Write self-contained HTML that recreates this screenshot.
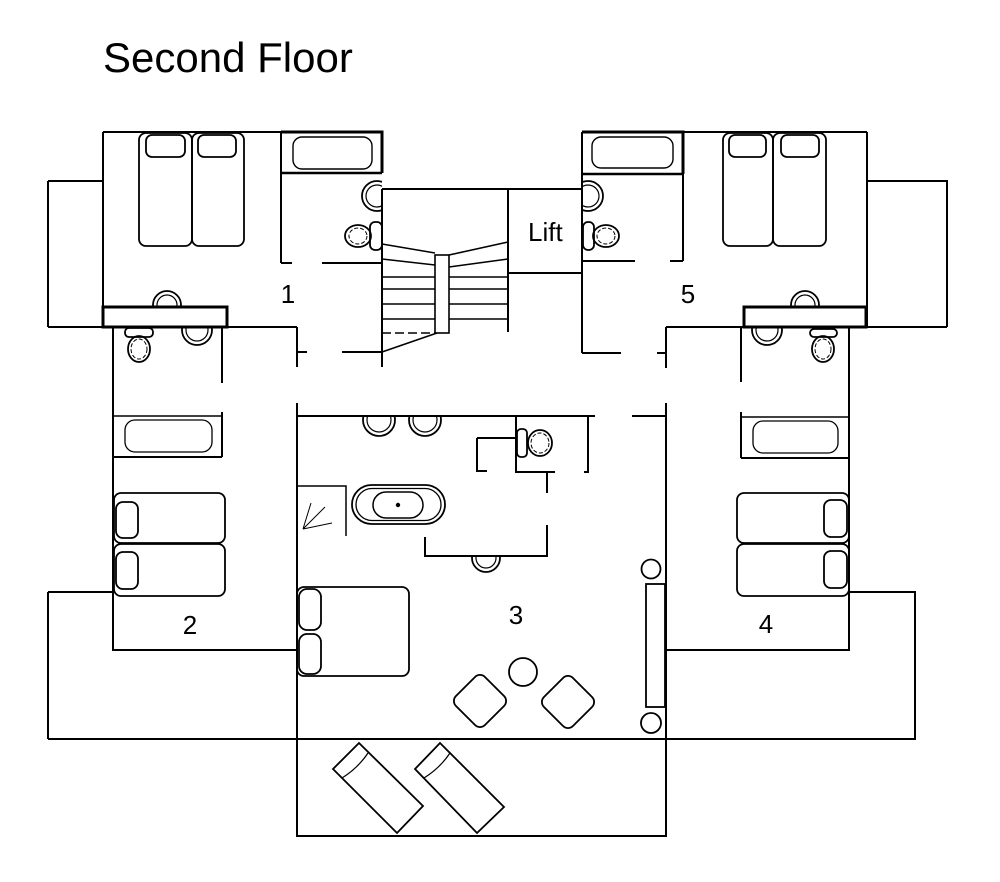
<!DOCTYPE html>
<html><head><meta charset="utf-8"><style>
html,body{margin:0;padding:0;background:#fff;}
svg{display:block}
text{font-family:"Liberation Sans",Arial,sans-serif;fill:#000}
</style></head><body>
<svg width="1000" height="882" viewBox="0 0 1000 882" xmlns="http://www.w3.org/2000/svg">
<defs>
<clipPath id="c1"><rect x="0" y="0" width="382" height="882"/></clipPath>
<clipPath id="c2"><rect x="0" y="0" width="1000" height="307"/></clipPath>
<clipPath id="c3"><rect x="113" y="328" width="109" height="100"/></clipPath>
<clipPath id="c4"><rect x="583" y="0" width="417" height="882"/></clipPath>
<clipPath id="c5"><rect x="741" y="328" width="108" height="100"/></clipPath>
<clipPath id="c6"><rect x="297" y="417" width="300" height="100"/></clipPath>
<clipPath id="c7"><rect x="400" y="557" width="200" height="100"/></clipPath>
</defs>
<rect width="1000" height="882" fill="#fff"/>
<text x="103" y="72" font-size="42">Second Floor</text>

<g fill="none" stroke="#000" stroke-width="2">
<!-- left balcony & room 1 -->
<path d="M48,181 H103 M48,181 V327 M48,327 H297 M103,132 V327 M103,132 H382"/>
<path d="M281,132 H382 V173" stroke-width="3"/>
<path d="M281,173 H382" stroke-width="2.5"/>
<path d="M281,132 V263 M281,263 H292 M322,263 H383"/>
<rect x="103" y="307" width="124" height="20" stroke-width="3"/>
<!-- stairs / lift -->
<path d="M382,189 V367 M382,189 H582 M508,189 V332 M508,273 H582 M582,132 V353 M582,353 H621 M657,353 H666"/>
<path d="M297,327 V367 M297,352 H307 M342,352 H382"/>
<!-- room 5 & right balcony -->
<path d="M582,132 H867 M867,132 V327"/>
<path d="M582,132 H683 V174" stroke-width="3"/>
<path d="M582,174 H683" stroke-width="2.5"/>
<path d="M683,132 V261 M582,261 H635 M670,261 H683"/>
<path d="M867,181 H947 V327 M666,327 H947 M666,327 V368"/>
<rect x="744" y="307" width="122" height="20" stroke-width="3"/>
<!-- room 2 -->
<path d="M113,327 V650 H297 M222,327 V383 M222,412 V457 M113,457 H222 M48,592 H113 M48,592 V739"/>
<path d="M113,416 H222" stroke-width="1.5"/>
<!-- room 3 / terrace -->
<path d="M297,403 V836 H666 V403 M48,739 H915 V592 H849 M849,327 V650 H666 M741,327 V382 M741,412 V458 M741,458 H849"/>
<path d="M741,417 H849" stroke-width="1.5"/>
<path d="M297,416 H595 M632,416 H666"/>
<path d="M516,416 V472 H555 M547,472 V493 M477,438 H516 M477,438 V471 H487 M588,416 V472 H584 M547,525 V556 H425 V537"/>
<path d="M297,486 H346 V536" stroke-width="1.5"/>
</g>

<!-- stairs treads -->
<g fill="none" stroke="#000" stroke-width="1.6">
<path d="M382,244 L435,253 M382,259 L435,265 M449,255 L508,242 M449,267 L508,259"/>
<path d="M382,277 H435 M382,289 H435 M382,304 H435 M382,319 H435 M449,277 H508 M449,289 H508 M449,304 H508 M449,319 H508"/>
<rect x="435" y="255" width="14" height="78"/>
<path d="M382,333 H435" stroke-dasharray="9 4"/>
<path d="M382,352 L437,333"/>
</g>

<!-- furniture -->
<g fill="none" stroke="#000" stroke-width="1.8">
<!-- room 1 -->
<rect x="139" y="133" width="53" height="113" rx="7"/>
<rect x="192" y="133" width="52" height="113" rx="7"/>
<rect x="146" y="135" width="39" height="22" rx="6"/>
<rect x="198" y="135" width="38" height="22" rx="6"/>
<rect x="293" y="137" width="79" height="32" rx="9" stroke-width="1.4"/>
<g clip-path="url(#c1)"><circle cx="377" cy="196" r="15"/><circle cx="377" cy="196" r="11" stroke-width="1.2"/></g>
<rect x="370" y="222" width="12" height="28" rx="5"/>
<ellipse cx="358" cy="236" rx="13" ry="11"/>
<ellipse cx="358" cy="236" rx="9" ry="8" stroke-width="1" stroke-dasharray="4 2"/>
<g clip-path="url(#c2)"><circle cx="167" cy="305" r="14"/><circle cx="167" cy="305" r="10" stroke-width="1.2"/></g>
<!-- room 2 -->
<g clip-path="url(#c3)"><circle cx="197" cy="330" r="15"/><circle cx="197" cy="330" r="11" stroke-width="1.2"/></g>
<rect x="125" y="328" width="28" height="9" rx="4"/>
<ellipse cx="139" cy="349" rx="11" ry="13"/>
<ellipse cx="139" cy="349" rx="8" ry="10" stroke-width="1" stroke-dasharray="4 2"/>
<rect x="125" y="420" width="87" height="32" rx="10" stroke-width="1.3"/>
<rect x="114" y="493" width="111" height="50" rx="7"/>
<rect x="114" y="544" width="111" height="52" rx="7"/>
<rect x="116" y="502" width="22" height="36" rx="7"/>
<rect x="116" y="552" width="22" height="37" rx="7"/>
<!-- room 5 -->
<rect x="592" y="137" width="81" height="31" rx="9" stroke-width="1.4"/>
<g clip-path="url(#c4)"><circle cx="588" cy="196" r="15"/><circle cx="588" cy="196" r="11" stroke-width="1.2"/></g>
<rect x="583" y="222" width="11" height="28" rx="5"/>
<ellipse cx="606" cy="236" rx="13" ry="11"/>
<ellipse cx="606" cy="236" rx="9" ry="8" stroke-width="1" stroke-dasharray="4 2"/>
<rect x="723" y="133" width="50" height="113" rx="7"/>
<rect x="773" y="133" width="53" height="113" rx="7"/>
<rect x="729" y="135" width="37" height="22" rx="6"/>
<rect x="781" y="135" width="38" height="22" rx="6"/>
<g clip-path="url(#c2)"><circle cx="805" cy="305" r="14"/><circle cx="805" cy="305" r="10" stroke-width="1.2"/></g>
<!-- room 4 -->
<g clip-path="url(#c5)"><circle cx="767" cy="330" r="15"/><circle cx="767" cy="330" r="11" stroke-width="1.2"/></g>
<rect x="810" y="329" width="27" height="8" rx="4"/>
<ellipse cx="823" cy="349" rx="11" ry="13"/>
<ellipse cx="823" cy="349" rx="8" ry="10" stroke-width="1" stroke-dasharray="4 2"/>
<rect x="753" y="421" width="85" height="32" rx="10" stroke-width="1.3"/>
<rect x="737" y="493" width="112" height="50" rx="7"/>
<rect x="737" y="544" width="112" height="52" rx="7"/>
<rect x="824" y="500" width="23" height="37" rx="7"/>
<rect x="824" y="551" width="23" height="37" rx="7"/>
<!-- room 3 -->
<g clip-path="url(#c6)">
<circle cx="379" cy="420" r="16"/><circle cx="379" cy="420" r="12" stroke-width="1.2"/>
<circle cx="425" cy="420" r="16"/><circle cx="425" cy="420" r="12" stroke-width="1.2"/>
</g>
<rect x="517" y="429" width="10" height="28" rx="4"/>
<ellipse cx="540" cy="443" rx="12" ry="13"/>
<ellipse cx="540" cy="443" rx="9" ry="10" stroke-width="1" stroke-dasharray="4 2"/>
<g clip-path="url(#c7)"><circle cx="486" cy="558" r="14"/><circle cx="486" cy="558" r="10" stroke-width="1.2"/></g>
<rect x="352" y="485" width="93" height="39" rx="19.5"/>
<rect x="356" y="488.5" width="85" height="32" rx="16" stroke-width="1.3"/>
<rect x="373" y="492" width="50" height="26" rx="13" stroke-width="1.5"/>
<path d="M303,529 L311,503 M303,529 L325,507 M303,529 L332,523" stroke-width="1"/>
<circle cx="651" cy="569" r="9.5"/>
<circle cx="651" cy="723" r="10"/>
<rect x="646" y="584" width="19" height="123"/>
<rect x="297" y="587" width="112" height="89" rx="7"/>
<rect x="299" y="589" width="22" height="41" rx="8"/>
<rect x="299" y="634" width="22" height="40" rx="8"/>
<circle cx="523" cy="672" r="14"/>
<rect x="-20.5" y="-20.5" width="41" height="41" rx="7" transform="translate(480,701) rotate(45)"/>
<rect x="-20.5" y="-20.5" width="41" height="41" rx="7" transform="translate(568,702) rotate(45)"/>
<!-- loungers -->
<polygon points="333,769 359,743 423,806 397,833"/>
<path d="M342,778 Q358,768 368,753" stroke-width="1.2"/>
<polygon points="415,769 440,743 504,807 477,833"/>
<path d="M424,778 Q440,768 450,753" stroke-width="1.2"/>
</g>
<circle cx="398" cy="505" r="2.2" fill="#000"/>

<g font-size="26">
<text x="528" y="241">Lift</text>
<text x="288" y="303" text-anchor="middle">1</text>
<text x="688" y="303" text-anchor="middle">5</text>
<text x="190" y="634" text-anchor="middle">2</text>
<text x="516" y="624" text-anchor="middle">3</text>
<text x="766" y="633" text-anchor="middle">4</text>
</g>
</svg>
</body></html>
